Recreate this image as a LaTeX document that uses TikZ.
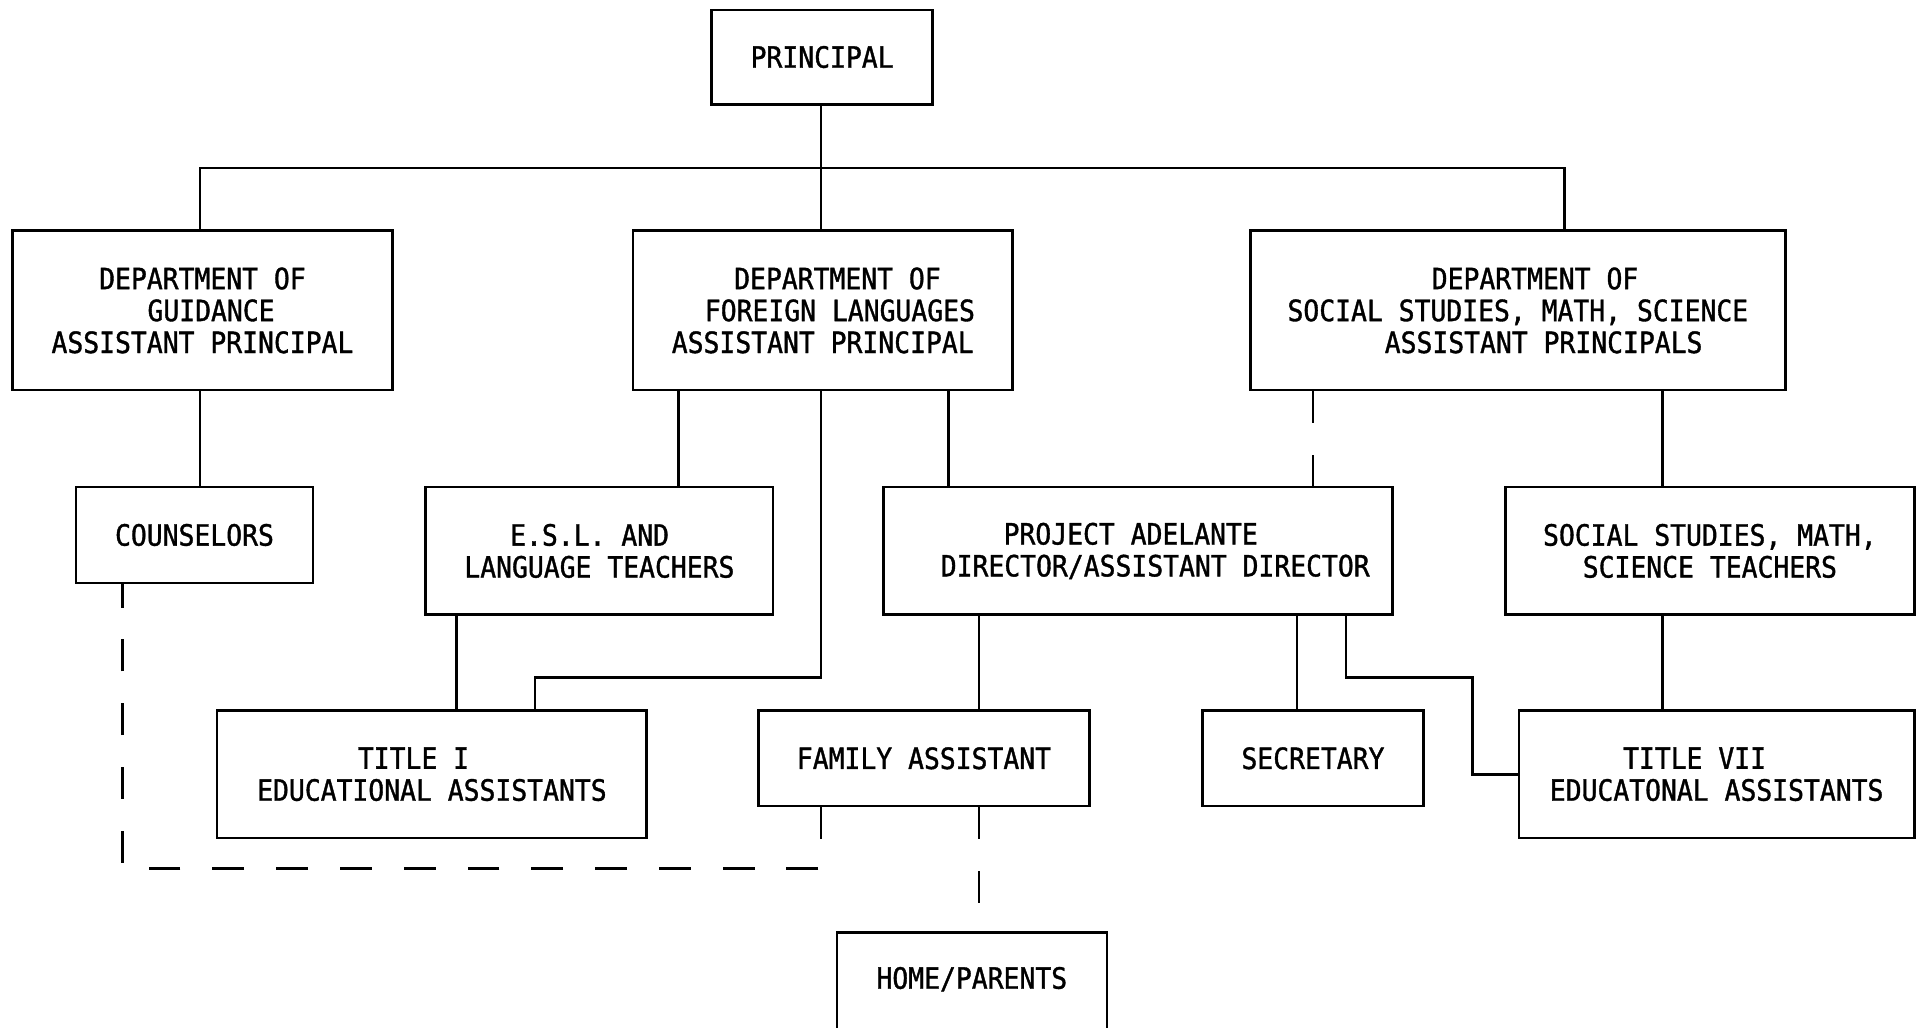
\documentclass[tikz,border=0pt]{standalone}
\usepackage{fontspec}
\newfontfamily\tw[FakeStretch=0.9,FakeBold=1.2]{DejaVu Sans Mono}
\tikzset{
  orgbox/.style={draw, line width=1.2pt, inner sep=0pt, align=center, font=\tw\fontsize{13.6}{14.8}\selectfont},
  orgtext/.style={inner sep=0pt, align=center, font=\tw\fontsize{13.6}{14.8}\selectfont},
  link/.style={line width=1.2pt},
  dlink/.style={line width=1.2pt, dash pattern=on 0.52cm off 0.52cm},
}
\newcommand\orgnode[6]{\node[orgbox, minimum width={(#4-#2)*0.02cm}, minimum height={(#5-#3)*0.02cm}] (#1) at ({(#2+#4)/2},{(#3+#5)/2}) {#6};}
\begin{document}
\begin{tikzpicture}[x=0.02cm,y=-0.02cm]
\useasboundingbox (0,0) rectangle (1568,837);
\clip (0,0) rectangle (1568,837);
% boxes
\orgnode{P}{580}{8}{760}{85}{PRINCIPAL}
\orgnode{G}{10}{188}{320}{318}{DEPARTMENT OF\\\hspace*{2.8mm}GUIDANCE\\ASSISTANT PRINCIPAL}
\orgnode{FL}{516}{188}{825}{318}{\hspace*{4.8mm}DEPARTMENT OF\\\hspace*{5.6mm}FOREIGN LANGUAGES\\ASSISTANT PRINCIPAL}
\orgnode{SS}{1019}{188}{1455}{318}{\hspace*{5.6mm}DEPARTMENT OF\\SOCIAL STUDIES, MATH, SCIENCE\\\hspace*{8.4mm}ASSISTANT PRINCIPALS}
\orgnode{C}{62}{397}{255}{475}{COUNSELORS}
\orgnode{ESL}{347}{397}{630}{501}{\hspace*{-3.2mm}E.S.L. AND\\LANGUAGE TEACHERS}
\orgnode{PA}{720}{397}{1135}{501}{\hspace*{-2.4mm}PROJECT ADELANTE\\\hspace*{5.6mm}DIRECTOR/ASSISTANT DIRECTOR}
\orgnode{SST}{1227}{397}{1560}{501}{SOCIAL STUDIES, MATH,\\SCIENCE TEACHERS}
\orgnode{T1}{177}{579}{527}{683}{\hspace*{-6mm}TITLE I\\EDUCATIONAL ASSISTANTS}
\orgnode{FA}{618}{579}{888}{657}{FAMILY ASSISTANT}
\orgnode{SE}{980}{579}{1160}{657}{SECRETARY}
\orgnode{T7}{1238}{579}{1560}{683}{\hspace*{-7.2mm}TITLE VII\\EDUCATONAL ASSISTANTS}
\orgnode{H}{682}{760}{902}{860}{}
\node[orgtext] (Ht) at (792,798) {HOME/PARENTS};
% connectors
\draw[link] (669,0 |- P.south) -- (669,0 |- FL.north);
\draw[link] (163,0 |- G.north) |- (1275,137) -- (1275,0 |- SS.north);
\draw[link] (163,0 |- G.south) -- (163,0 |- C.north);
\draw[link] (553,0 |- FL.south) -- (553,0 |- ESL.north);
\draw[link] (773,0 |- FL.south) -- (773,0 |- PA.north);
\draw[link] (669,0 |- FL.south) -- (669,552) -| (436,0 |- T1.north);
\draw[dlink] (1070,0 |- SS.south) -- (1070,0 |- PA.north);
\draw[link] (1355,0 |- SS.south) -- (1355,0 |- SST.north);
\draw[link] (372,0 |- ESL.south) -- (372,0 |- T1.north);
\draw[link] (798,0 |- PA.south) -- (798,0 |- FA.north);
\draw[link] (1057,0 |- PA.south) -- (1057,0 |- SE.north);
\draw[link] (1097,0 |- PA.south) -- (1097,552) -- (1200,552) |- (T7.west);
\draw[link] (1355,0 |- SST.south) -- (1355,0 |- T7.north);
\draw[dlink] (798,0 |- FA.south) -- (798,0 |- H.north);
\draw[dlink] (669,0 |- FA.south) -- (669,708) -- (100,708) -- (100,0 |- C.south);
\end{tikzpicture}
\end{document}
